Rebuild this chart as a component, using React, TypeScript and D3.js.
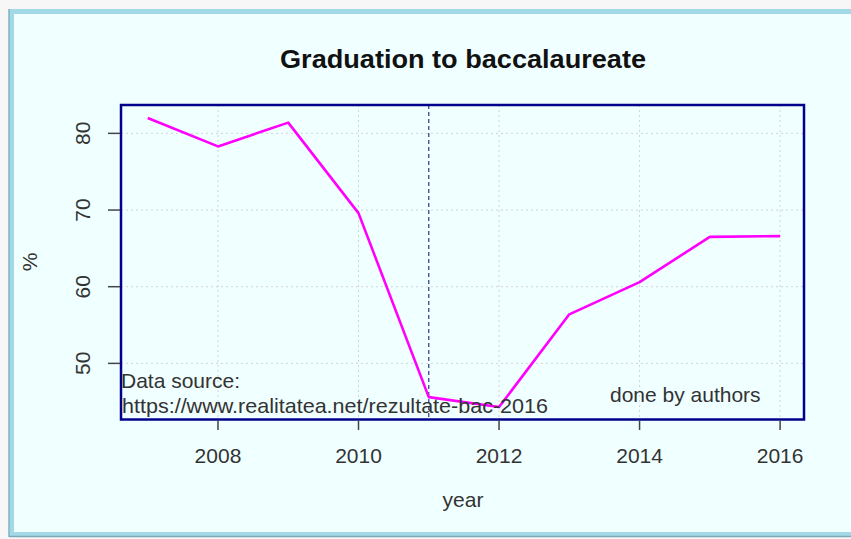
import { useEffect, useRef } from "react";
import * as d3 from "d3";

const years: number[] = [2007, 2008, 2009, 2010, 2011, 2012, 2013, 2014, 2015, 2016];
const passRate: number[] = [82.0, 78.3, 81.4, 69.6, 45.6, 44.3, 56.4, 60.6, 66.5, 66.6];
const xTicks: number[] = [2008, 2010, 2012, 2014, 2016];
const yTicks: number[] = [50, 60, 70, 80];
const markYear = 2011;

function App() {
  const svgRef = useRef<SVGSVGElement>(null);

  useEffect(() => {
    if (!svgRef.current) return;
    const svg = d3.select(svgRef.current);
    svg.selectAll("*").remove();

    const width = 851;
    const height = 539;
    svg.attr("width", width).attr("height", height);

    const font = "'Liberation Sans', Arial, sans-serif";
    const textColor = "#333";

    // page + frame
    svg.append("rect").attr("width", width).attr("height", height).attr("fill", "#f7f7f7");
    svg.append("rect")
      .attr("x", 11.5).attr("y", 11.5)
      .attr("width", 860).attr("height", 523)
      .attr("fill", "#f0ffff")
      .attr("stroke", "#a3d9e6")
      .attr("stroke-width", 5);
    svg.append("line")
      .attr("x1", 9).attr("x2", 9).attr("y1", 9).attr("y2", 537)
      .attr("stroke", "#7fb3c2").attr("stroke-width", 1.5);
    svg.append("line")
      .attr("x1", 9).attr("x2", 851).attr("y1", 536.5).attr("y2", 536.5)
      .attr("stroke", "#7fa9b6").attr("stroke-width", 1.5);

    // plot region
    const left = 121, right = 804, top = 105, bottom = 419.5;

    const x = d3.scaleLinear().domain([2006.62, 2016.34]).range([left, right]);
    const y = d3.scaleLinear().domain([42.68, 83.7]).range([bottom, top]);

    const g = svg.append("g");

    // grid
    g.selectAll(".vgrid")
      .data(xTicks)
      .join("line")
      .attr("x1", (d) => x(d)).attr("x2", (d) => x(d))
      .attr("y1", top).attr("y2", bottom)
      .attr("stroke", "#d3d3d3").attr("stroke-width", 1)
      .attr("stroke-dasharray", "2,3");
    g.selectAll(".hgrid")
      .data(yTicks)
      .join("line")
      .attr("x1", left).attr("x2", right)
      .attr("y1", (d) => y(d)).attr("y2", (d) => y(d))
      .attr("stroke", "#d3d3d3").attr("stroke-width", 1)
      .attr("stroke-dasharray", "2,3");

    // vertical marker
    g.append("line")
      .attr("x1", x(markYear)).attr("x2", x(markYear))
      .attr("y1", top).attr("y2", bottom)
      .attr("stroke", "#33338a").attr("stroke-width", 1.2)
      .attr("stroke-dasharray", "4,3");

    // line
    const line = d3.line<number>()
      .x((_, i) => x(years[i]))
      .y((d) => y(d));
    g.append("path")
      .datum(passRate)
      .attr("d", line)
      .attr("fill", "none")
      .attr("stroke", "#ff00ff")
      .attr("stroke-width", 2.6)
      .attr("stroke-linejoin", "round");

    // box
    g.append("rect")
      .attr("x", left).attr("y", top)
      .attr("width", right - left).attr("height", bottom - top)
      .attr("fill", "none")
      .attr("stroke", "#00008b")
      .attr("stroke-width", 2.5);

    // x axis ticks
    g.selectAll(".xtick")
      .data(xTicks)
      .join("line")
      .attr("x1", (d) => x(d)).attr("x2", (d) => x(d))
      .attr("y1", bottom + 1).attr("y2", 430)
      .attr("stroke", "#444").attr("stroke-width", 1.5);
    g.selectAll(".xlab")
      .data(xTicks)
      .join("text")
      .attr("x", (d) => x(d)).attr("y", 463)
      .attr("text-anchor", "middle")
      .attr("font-family", font).attr("font-size", 21)
      .attr("fill", textColor)
      .text((d) => d);

    // y axis ticks
    g.selectAll(".ytick")
      .data(yTicks)
      .join("line")
      .attr("x1", 108).attr("x2", left - 1)
      .attr("y1", (d) => y(d)).attr("y2", (d) => y(d))
      .attr("stroke", "#444").attr("stroke-width", 1.5);
    g.selectAll(".ylab")
      .data(yTicks)
      .join("text")
      .attr("transform", (d) => `translate(90,${y(d)}) rotate(-90)`)
      .attr("text-anchor", "middle")
      .attr("font-family", font).attr("font-size", 21)
      .attr("fill", textColor)
      .text((d) => d);

    // titles
    svg.append("text")
      .attr("x", 463).attr("y", 68)
      .attr("text-anchor", "middle")
      .attr("font-family", font).attr("font-size", 25).attr("font-weight", "bold")
      .attr("textLength", 366).attr("lengthAdjust", "spacingAndGlyphs")
      .attr("fill", "#111")
      .text("Graduation to baccalaureate");
    svg.append("text")
      .attr("x", 463).attr("y", 507)
      .attr("text-anchor", "middle")
      .attr("font-family", font).attr("font-size", 21)
      .attr("fill", textColor)
      .text("year");
    svg.append("text")
      .attr("transform", "translate(37,262) rotate(-90)")
      .attr("text-anchor", "middle")
      .attr("font-family", font).attr("font-size", 21)
      .attr("fill", textColor)
      .text("%");

    // notes
    svg.append("text")
      .attr("x", 121).attr("y", 388)
      .attr("font-family", font).attr("font-size", 21)
      .attr("fill", textColor)
      .text("Data source:");
    svg.append("text")
      .attr("x", 122).attr("y", 413)
      .attr("font-family", font).attr("font-size", 21)
      .attr("textLength", 426).attr("lengthAdjust", "spacingAndGlyphs")
      .attr("fill", textColor)
      .text("https://www.realitatea.net/rezultate-bac-2016");
    svg.append("text")
      .attr("x", 610).attr("y", 402)
      .attr("font-family", font).attr("font-size", 21)
      .attr("fill", textColor)
      .text("done by authors");
  }, []);

  return <svg ref={svgRef} style={{ position: "absolute", left: 0, top: 0 }}></svg>;
}

export default App;
